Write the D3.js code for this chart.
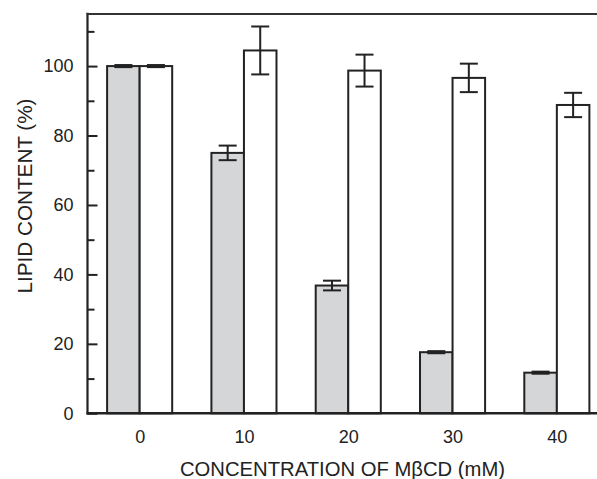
<!DOCTYPE html>
<html>
<head>
<meta charset="utf-8">
<script src="https://cdn.jsdelivr.net/npm/d3@7"></script>
<style>
  html, body { margin: 0; padding: 0; background: #fff; }
  svg { display: block; }
  text { font-family: "Liberation Sans", Arial, Helvetica, sans-serif; fill: #222; }
</style>
</head>
<body>
<svg id="chart" width="597" height="479"></svg>
<script>
// ---- data ----
const concentrations = [0, 10, 20, 30, 40];          // mM MβCD
const treatedValues  = [100, 75.0, 36.8, 17.6, 11.7]; // grey bars
const treatedErrors  = [0.3, 2.1, 1.4, 0.3, 0.3];
const controlValues  = [100, 104.5, 98.7, 96.6, 88.8]; // white bars
const controlErrors  = [0.3, 6.9, 4.6, 4.1, 3.5];
const yMajorTicks = [0, 20, 40, 60, 80, 100];
const yMinorTicks = [10, 30, 50, 70, 90, 110];
const xTickLabels = ["0", "10", "20", "30", "40"];
const xTitle = "CONCENTRATION OF MβCD (mM)";
const yTitle = "LIPID CONTENT (%)";

// ---- layout ----
const svg = d3.select("#chart");
const pLeft = 87.5, pRight = 609, pTop = 14, pBottom = 413.3;
const x = d3.scaleLinear().domain([-5, 45]).range([pLeft, pRight]);
const y = d3.scaleLinear().domain([0, 115]).range([pBottom, pTop]);
const barW = 3.12;   // bar width in x units
const capHalf = 9;
const ink = "#222";

const rows = concentrations.map((c, i) => ({
  c, tv: treatedValues[i], te: treatedErrors[i], cv: controlValues[i], ce: controlErrors[i]
}));

// bars
const g = svg.append("g");
g.selectAll("rect.treated").data(rows).join("rect")
  .attr("class", "treated")
  .attr("x", d => x(d.c - barW))
  .attr("width", d => x(d.c) - x(d.c - barW))
  .attr("y", d => y(d.tv))
  .attr("height", d => y(0) - y(d.tv))
  .attr("fill", "#d5d6d8")
  .attr("stroke", ink).attr("stroke-width", 2);
g.selectAll("rect.control").data(rows).join("rect")
  .attr("class", "control")
  .attr("x", d => x(d.c))
  .attr("width", d => x(d.c + barW) - x(d.c))
  .attr("y", d => y(d.cv))
  .attr("height", d => y(0) - y(d.cv))
  .attr("fill", "#fff")
  .attr("stroke", ink).attr("stroke-width", 2);

// error bars
function errBars(cls, cx, val, err) {
  const eg = g.selectAll("g." + cls).data(rows).join("g").attr("class", cls)
    .attr("stroke", ink).attr("stroke-width", 2);
  eg.append("line")
    .attr("x1", d => cx(d)).attr("x2", d => cx(d))
    .attr("y1", d => y(val(d) - err(d))).attr("y2", d => y(val(d) + err(d)));
  eg.append("line")
    .attr("x1", d => cx(d) - capHalf).attr("x2", d => cx(d) + capHalf)
    .attr("y1", d => y(val(d) + err(d))).attr("y2", d => y(val(d) + err(d)));
  eg.append("line")
    .attr("x1", d => cx(d) - capHalf).attr("x2", d => cx(d) + capHalf)
    .attr("y1", d => y(val(d) - err(d))).attr("y2", d => y(val(d) - err(d)));
}
errBars("err-treated", d => x(d.c - barW / 2), d => d.tv, d => d.te);
errBars("err-control", d => x(d.c + barW / 2), d => d.cv, d => d.ce);

// y axis (inward ticks)
const yAxis = svg.append("g").attr("transform", `translate(${pLeft},0)`)
  .call(d3.axisLeft(y).tickValues(yMajorTicks).tickSize(-10).tickPadding(14).tickFormat(d3.format("d")));
yAxis.select(".domain").remove();
yAxis.selectAll(".tick line").attr("stroke", ink).attr("stroke-width", 2);
yAxis.selectAll(".tick text").style("font-size", "18px").attr("fill", ink)
  .attr("font-family", "Liberation Sans, Arial, sans-serif");
const yMinor = svg.append("g").attr("transform", `translate(${pLeft},0)`)
  .call(d3.axisLeft(y).tickValues(yMinorTicks).tickSize(-7).tickFormat(""));
yMinor.select(".domain").remove();
yMinor.selectAll(".tick line").attr("stroke", ink).attr("stroke-width", 2);

// x axis labels (no visible tick marks)
const xAxis = svg.append("g").attr("transform", `translate(0,${pBottom})`)
  .call(d3.axisBottom(x).tickValues(concentrations).tickSize(0).tickPadding(17)
    .tickFormat((d, i) => xTickLabels[i]));
xAxis.select(".domain").remove();
xAxis.selectAll(".tick text").style("font-size", "18px").attr("fill", ink)
  .attr("font-family", "Liberation Sans, Arial, sans-serif");

// frame lines: left, bottom, top
svg.append("line").attr("x1", pLeft).attr("x2", pLeft).attr("y1", pTop - 1.2).attr("y2", pBottom + 1.3)
  .attr("stroke", ink).attr("stroke-width", 2.2);
svg.append("line").attr("x1", pLeft - 1).attr("x2", pRight).attr("y1", pBottom).attr("y2", pBottom)
  .attr("stroke", ink).attr("stroke-width", 2.6);
svg.append("line").attr("x1", pLeft - 1).attr("x2", pRight).attr("y1", pTop).attr("y2", pTop)
  .attr("stroke", "#333").attr("stroke-width", 2.2);

// titles
svg.append("text").attr("x", 342.5).attr("y", 476).attr("text-anchor", "middle")
  .style("font-size", "21px").attr("textLength", 325).attr("lengthAdjust", "spacingAndGlyphs")
  .text(xTitle);
svg.append("text").attr("transform", "translate(32,196) rotate(-90)").attr("text-anchor", "middle")
  .style("font-size", "21px").attr("textLength", 195).attr("lengthAdjust", "spacingAndGlyphs")
  .text(yTitle);
</script>
</body>
</html>
